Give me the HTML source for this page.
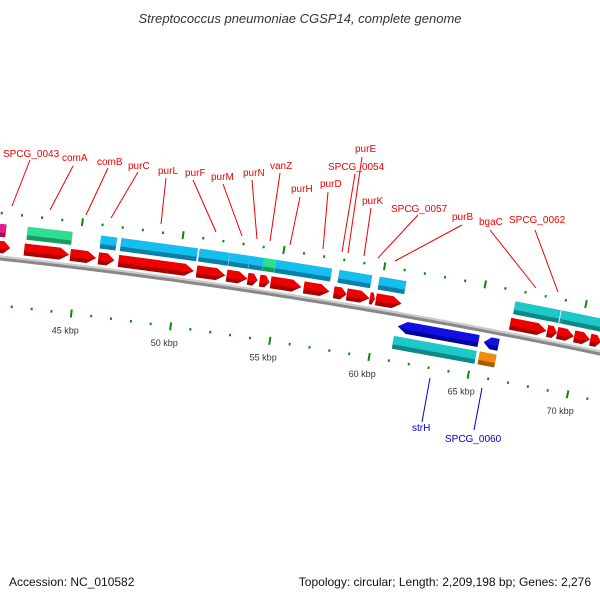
<!DOCTYPE html>
<html><head><meta charset="utf-8"><style>
body{margin:0;background:#fff;width:600px;height:600px;overflow:hidden}
svg{display:block;font-family:"Liberation Sans","DejaVu Sans",sans-serif}
</style></head><body>
<svg id="map" width="600" height="600" viewBox="0 0 600 600">
<text x="300" y="23" text-anchor="middle" font-size="13" font-style="italic" fill="#333">Streptococcus pneumoniae CGSP14, complete genome</text>
<text x="9" y="586" font-size="12" fill="#111">Accession: NC_010582</text>
<text x="591" y="586" font-size="12" fill="#111" text-anchor="end">Topology: circular; Length: 2,209,198 bp; Genes: 2,276</text>
<g id="bb"></g><g id="ticks"></g><g id="feats"></g><g id="labels"></g>
</svg>
<script>
// data (kbp)
const fwdGenes=[[40.9,41.6],[42.3,44.55],[44.6,45.9],[46.0,46.8],[47.0,50.8],[50.9,52.35],[52.4,53.45],[53.45,53.95],[54.05,54.55],[54.6,56.15],[56.25,57.55],[57.75,58.4],[58.4,59.55],[59.55,59.8],[59.85,61.15],[66.55,68.4],[68.4,68.9],[68.9,69.75],[69.75,70.55],[70.55,71.1]];
const fwdCog=[[40.9,41.3,'#e0208a'],[42.35,44.6,'#2de091'],[46.0,46.8,'#14bff0'],[47.0,50.85,'#14bff0'],[50.9,52.4,'#14bff0'],[52.4,53.4,'#14bff0'],[53.4,54.1,'#14bff0'],[54.1,54.7,'#2de091'],[54.7,56.3,'#14bff0'],[56.25,57.5,'#14bff0'],[57.85,59.5,'#14bff0'],[59.85,61.2,'#14bff0'],[66.6,68.9,'#1cc8c8'],[68.9,69.0,'#1cc8c8'],[69.0,71.5,'#1cc8c8']];
const revGenes=[[61.15,65.25],[65.45,66.2]];
const revCog=[[61.05,65.25,'#1cc8c8'],[65.35,66.2,'#f08c0a']];
const tickStart=41, tickEnd=73, labelKbp=[45,50,55,60,65,70];
const A=0.1083,B=8.33e-5;
function X(k){return 77+(k-45)*20}
function Y(x){return 258+A*x+B*x*x}
function ang(x){return Math.atan(A+2*B*x)}
const NS='http://www.w3.org/2000/svg';
function el(t,at,p){const e=document.createElementNS(NS,t);for(const k in at)e.setAttribute(k,at[k]);p.appendChild(e);return e}
function P(k,o){const x=X(k),a=ang(x);return [x+o*Math.sin(a),Y(x)-o*Math.cos(a),a*180/Math.PI]}
const bb=document.getElementById('bb');
let d='';for(let x=-10;x<=620;x+=10)d+=(x<-5?'M':'L')+x+' '+Y(x).toFixed(1);
const b1=el('path',{d:d,stroke:'#888',"stroke-width":5,fill:'none'},bb);


const b2=el('path',{d:d,stroke:'#ccc',"stroke-width":2,fill:'none',transform:'translate(0,-1.5)'},bb);


const tg=document.getElementById('ticks');
for(let k=tickStart;k<=tickEnd;k++){
  const maj=k%5===0;
  [[45,1],[-47,-1]].forEach(([o,s])=>{
    const [x,y,a]=P(k,o);
    const t=el('rect',{x:-1,y:maj?-4:-1,width:2,height:maj?8:2.5,fill:'#0a8a0a',transform:`translate(${x.toFixed(1)},${y.toFixed(1)}) rotate(${a.toFixed(2)})`},tg);
    
    
  });
}
labelKbp.forEach(k=>{const [x,y]=P(k,-64);const t=el('text',{x:(x-4).toFixed(1),y:(y+3).toFixed(1),"text-anchor":'middle',"font-size":9,fill:'#333'},tg);t.textContent=k+' kbp';

});
const fg=document.getElementById('feats');
function shade(c){return {'#e00':'#a00','#e0208a':'#a0105a','#2de091':'#1a9a60','#14bff0':'#0a80a8','#1cc8c8':'#108888','#f08c0a':'#a85c00','#1010e0':'#0000a0'}[c]||'#666'}
function feat(s,e,top,h,col,dir,name){
  const xm=X((s+e)/2),a=ang(xm)*180/Math.PI;
  const [px,py]=P(s,0);
  const L=(e-s)*20;
  const g=el('g',{transform:`translate(${px.toFixed(1)},${py.toFixed(1)}) rotate(${a.toFixed(2)})`},fg);
  
  
  const hw=Math.min(9,L*0.45);
  let pts;
  if(dir===1)pts=[[0,top],[L-hw,top],[L,top+h/2],[L-hw,top+h],[0,top+h]];
  else if(dir===-1)pts=[[hw,top],[L,top],[L,top+h],[hw,top+h],[0,top+h/2]];
  else pts=[[0,top],[L,top],[L,top+h],[0,top+h]];
  el('polygon',{points:pts.map(p=>p.map(v=>v.toFixed(1)).join(',')).join(' '),fill:shade(col)},g);
  const pts2=pts.map(([x,y])=>[x,Math.min(y,top+h*0.65)]);
  el('polygon',{points:pts2.map(p=>p.map(v=>v.toFixed(1)).join(',')).join(' '),fill:col},g);
}
fwdGenes.forEach(([s,e])=>feat(s,e,-17,12,'#e00',1,'forward-gene'));
fwdCog.forEach(([s,e,c])=>feat(s,e,-34,13,c,0,'forward-cog-bar'));
revGenes.forEach(([s,e])=>feat(s,e,6,12,'#1010e0',-1,'reverse-gene'));
revCog.forEach(([s,e,c])=>feat(s,e,22,13,c,0,'reverse-cog-bar'));
const lg=document.getElementById('labels');
const labs=[['SPCG_0043',3,157,30,160,12,206,'red'],['comA',62,161,73,166,50,210,'red'],['comB',97,165,108,168,86,215,'red'],['purC',128,169,138,172,111,218,'red'],['purL',158,174,166,178,161,224,'red'],['purF',185,176,193,180,216,232,'red'],['purM',211,180,223,184,242,236,'red'],['purN',243,176,252,180,257,239,'red'],['vanZ',270,169,280,173,270,241,'red'],['purH',291,192,300,197,290,245,'red'],['purD',320,187,328,192,323,249,'red'],['SPCG_0054',328,170,355,174,342,252,'red'],['purE',355,152,362,157,348,253,'red'],['purK',362,204,371,208,364,256,'red'],['SPCG_0057',391,212,418,215,378,258,'red'],['purB',452,220,462,225,395,261,'red'],['bgaC',479,225,490,230,536,288,'red'],['SPCG_0062',509,223,535,230,558,292,'red'],['strH',412,431,430,378,422,422,'blue'],['SPCG_0060',445,442,482,388,474,430,'blue']];
labs.forEach(([t,tx,ty,x1,y1,x2,y2,c])=>{
  const col=c==='red'?'#e00':'#00c';
  const l=el('line',{x1:x1,y1:y1,x2:x2,y2:y2,stroke:col,"stroke-width":1},lg);
  
  
  const tt=el('text',{x:tx,y:ty,"font-size":10,fill:col},lg);tt.textContent=t;
  
  
});
</script>
</body></html>
